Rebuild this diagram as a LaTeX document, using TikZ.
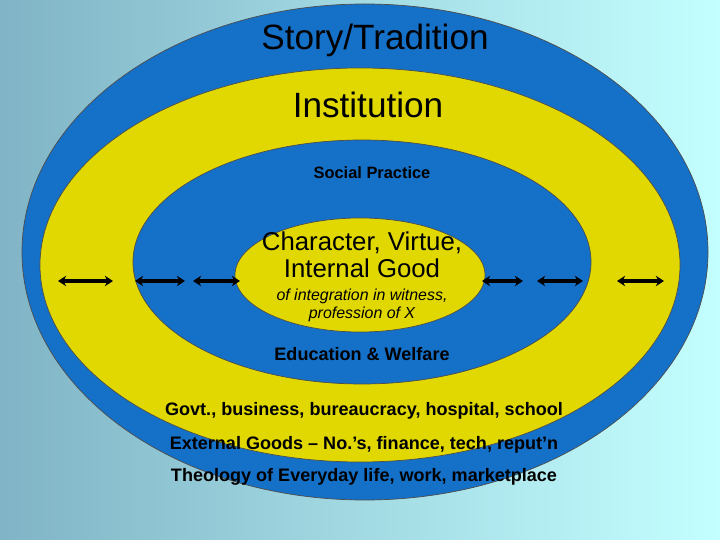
\documentclass[tikz,border=0pt]{standalone}
\usepackage{fontspec}
\setmainfont{Liberation Sans}
\usetikzlibrary{arrows.meta}
\definecolor{bl}{HTML}{1570C8}
\definecolor{ye}{HTML}{E0D800}
\definecolor{bgl}{HTML}{80B4C6}
\definecolor{bgr}{HTML}{C4FFFF}
\tikzset{ring/.style={draw=black!70,line width=0.6pt},
 dbl/.style={{Stealth[length=7pt,width=9pt]}-{Stealth[length=7pt,width=9pt]},line width=3.5pt},
 txt/.style={font=\bfseries\fontsize{15.4}{18}\selectfont}}
\begin{document}
\begin{tikzpicture}[x=0.03cm,y=-0.03cm]
\shade[left color=bgl,right color=bgr] (0,0) rectangle (720,540);
\useasboundingbox (0,0) rectangle (720,540);
\fill[ring,fill=bl] (365,252) ellipse [x radius=343,y radius=248];
\fill[ring,fill=ye] (360,265) ellipse [x radius=320,y radius=197];
\fill[ring,fill=bl] (362,262) ellipse [x radius=229,y radius=122];
\fill[ring,fill=ye] (360,275) ellipse [x radius=125,y radius=57];
\node (st) at (375,40) {\fontsize{30}{34}\selectfont Story/Tradition};
\node (in) at (368,105) {\fontsize{30}{34}\selectfont Institution};
\node (sp) at (372,173) {\bfseries\fontsize{14}{16}\selectfont Social Practice};
\node (ch) at (362,255) [align=center,font=\fontsize{22}{23}\selectfont] {Character, Virtue,\\Internal Good};
\node (it) at (362,305) [align=center,font=\itshape\fontsize{13.6}{15.3}\selectfont] {of integration in witness,\\profession of X};
\node[txt] (ed) at (362,354) {Education \& Welfare};
\node[txt] (g) at (364,411) {Govt., business, bureaucracy, hospital, school};
\node[txt] (e) at (364,445) {External Goods – No.’s, finance, tech, reput’n};
\node[txt] (t) at (364,477) {Theology of Everyday life, work, marketplace};
\foreach \a/\b [count=\i] in {58/113,135/185,193/240,482/523,537/583,617/664}{
 \coordinate (a\i) at (\a,281); \coordinate (b\i) at (\b,281);
 \draw[dbl] (a\i) -- (b\i);}
\end{tikzpicture}
\end{document}
